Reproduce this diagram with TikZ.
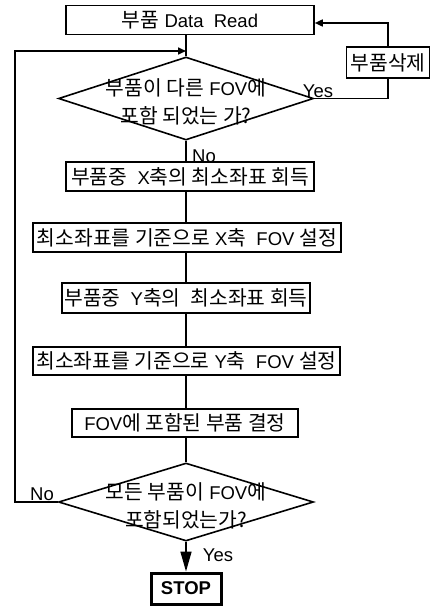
\documentclass[tikz,border=0pt]{standalone}
\usepackage{fontspec}
\setmainfont{Liberation Sans}
\newfontfamily\kr[Scale=1.1]{Noto Sans CJK KR}
\usetikzlibrary{arrows.meta,shapes.geometric}
\begin{document}
\begin{tikzpicture}[x=1pt,y=-1pt,line width=1.6pt,
  every node/.style={font=\fontsize{18.5}{28}\selectfont,inner sep=0pt},
  box/.style={draw,line width=1.6pt,minimum height=29pt},
  dia/.style={draw,shape=diamond,line width=1.6pt,inner sep=0pt},
  arr/.style={-{Triangle[length=8pt,width=7pt]}},
  bigarr/.style={-{Triangle[length=20pt,width=11pt]}}]
\useasboundingbox (0,0) rectangle (438,606);
\node[box,minimum width=248pt,minimum height=29pt] (top) at (190,20) {{\kr 부품} Data\ \ Read};
\node[dia,minimum width=255pt,minimum height=83pt] (d1) at (186,98.5) {};
\node[align=center] (t1) at (186,102) {{\kr 부품이 다른} FOV{\kr 에}\\{\kr 포함 되었는 가?}};
\node[box,minimum width=83pt,minimum height=31pt] (del) at (388,62.5) {\kr 부품삭제};
\node[box,minimum width=248pt] (b2) at (190,176.5) {{\kr 부품중}\ \ X{\kr 축의 최소좌표 회득}};
\node[box,minimum width=308pt] (b3) at (187,237.5) {{\kr 최소좌표를 기준으로} X{\kr 축}\ \ FOV {\kr 설정}};
\node[box,minimum width=248pt,minimum height=30pt] (b4) at (186,298) {{\kr 부품중}\ \ Y{\kr 축의}\ \ {\kr 최소좌표 회득}};
\node[box,minimum width=307pt,minimum height=28pt] (b5) at (186.5,361) {{\kr 최소좌표를 기준으로} Y{\kr 축}\ \ FOV {\kr 설정}};
\node[box,minimum width=226pt,minimum height=28pt] (b6) at (185,423) {FOV{\kr 에 포함된 부품 결정}};
\node[dia,minimum width=255pt,minimum height=78pt] (d2) at (186,502) {};
\node[align=center] (t2) at (186,506) {{\kr 모든 부품이} FOV{\kr 에}\\{\kr 포함되었는가?}};
\node[draw,line width=3pt,minimum width=70pt,minimum height=31pt,font=\fontsize{18.5}{20}\selectfont\bfseries] (stop) at (186,588.5) {STOP};
\node (yes1) at (318,91) {Yes};
\node (no1) at (204,156) {No};
\node (no2) at (42,494) {No};
\node (yes2) at (218,555) {Yes};
\coordinate (j) at (186,51);
% connectors
\draw (d1.north |- top.south) -- (d1.north);
\draw (d1.south) -- (d1.south |- b2.north);
\draw (b2.south -| d1.south) -- (b3.north -| d1.south);
\draw (b3.south -| d1.south) -- (b4.north -| d1.south);
\draw (b4.south -| d1.south) -- (b5.north -| d1.south);
\draw (b5.south -| d1.south) -- (b6.north -| d1.south);
\draw (b6.south -| d2.north) -- (d2.north);
\draw[bigarr] (d2.south) -- (stop.north);
\draw (d1.east) -| (del.south);
\draw[arr] (del.north) |- ([yshift=-3pt]top.east);
\draw[arr] (d2.west) -- ++(-43,0) |- (j);
\end{tikzpicture}
\end{document}
